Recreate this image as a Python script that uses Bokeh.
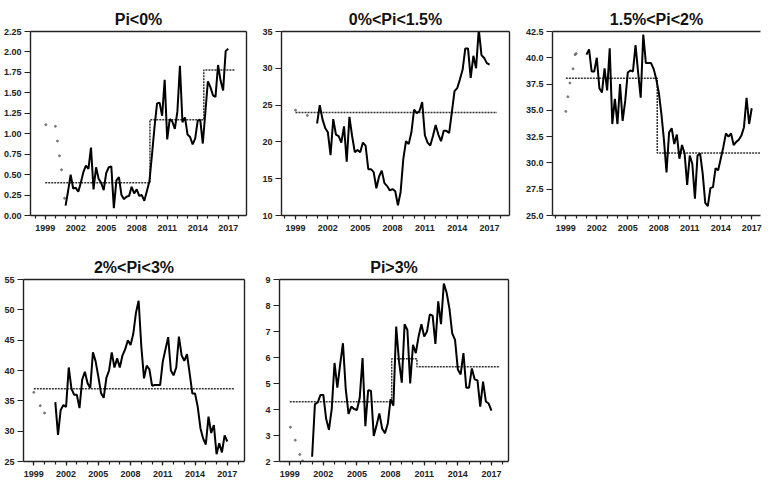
from bokeh.plotting import figure
from bokeh.layouts import column, row
from bokeh.models import FixedTicker, PrintfTickFormatter, Range1d, LinearAxis
from bokeh.embed import file_html
from bokeh.resources import INLINE

# quarterly observations 2001Q1 .. 2017Q1
quarters = [2001 + 0.25 * i for i in range(65)]

titles = ["Pi<0%", "0%<Pi<1.5%", "1.5%<Pi<2%", "2%<Pi<3%", "Pi>3%"]

neg_vals = [0.12, 0.30, 0.50, 0.33, 0.34, 0.29, 0.40, 0.53, 0.61, 0.57,
            0.83, 0.32, 0.59, 0.45, 0.40, 0.31, 0.52, 0.59, 0.60, 0.09,
            0.43, 0.47, 0.25, 0.20, 0.23, 0.24, 0.35, 0.27, 0.32, 0.24,
            0.25, 0.18, 0.30, 0.42, 0.74, 1.08, 1.37, 1.38, 1.22, 1.66,
            0.93, 1.18, 1.15, 1.06, 1.27, 1.83, 1.14, 1.20, 0.99, 0.96,
            0.87, 0.94, 1.16, 1.17, 0.88, 1.26, 1.64, 1.57, 1.47, 1.45,
            1.84, 1.65, 1.53, 2.01, 2.04]
low_vals = [22.5, 25.0, 23.1, 21.9, 21.3, 18.2, 23.1, 21.0, 20.8, 19.9,
            22.1, 17.3, 23.4, 20.8, 18.6, 18.9, 18.6, 19.9, 19.5, 16.3,
            16.3, 15.9, 13.7, 15.3, 16.1, 14.4, 14.0, 13.4, 13.6, 13.3,
            11.4, 13.2, 17.7, 20.1, 19.7, 21.3, 24.4, 23.9, 24.2, 25.4,
            20.9, 19.9, 19.5, 20.8, 22.3, 21.0, 20.1, 21.5, 21.5, 21.2,
            24.0, 26.9, 27.3, 28.5, 29.8, 32.7, 32.7, 28.7, 31.7, 30.0,
            35.3, 31.8, 31.4, 30.7, 30.5]
mid_vals = [40.3, 40.8, 38.7, 38.7, 40.0, 37.1, 36.7, 39.0, 36.9, 40.9,
            33.7, 36.1, 33.7, 37.5, 34.0, 35.9, 38.6, 38.8, 38.7, 41.2,
            38.6, 36.2, 42.2, 39.5, 39.5, 39.5, 38.95, 38.0, 36.7, 34.7,
            32.2, 29.1, 32.9, 33.3, 31.8, 32.7, 30.4, 31.7, 30.9, 27.9,
            30.7, 29.9, 26.6, 30.7, 30.9, 29.0, 26.2, 25.9, 27.6, 27.7,
            29.5, 29.3, 30.4, 31.5, 32.8, 32.5, 32.8, 31.7, 32.0, 32.2,
            32.6, 33.4, 36.2, 33.7, 35.2]
upper_vals = [34.8, 29.4, 33.5, 34.3, 34.0, 40.5, 37.0, 36.0, 36.0, 33.8,
              38.5, 39.8, 37.9, 37.1, 43.0, 41.5, 39.0, 36.3, 35.5, 38.8,
              40.0, 43.0, 40.5, 42.0, 40.5, 42.5, 43.5, 45.0, 44.2, 46.0,
              49.5, 51.5, 44.0, 38.7, 40.8, 40.2, 37.5, 37.6, 37.6, 37.6,
              41.5, 43.5, 45.5, 40.0, 39.2, 40.5, 45.6, 42.5, 41.6, 42.7,
              39.5, 36.2, 36.2, 34.0, 30.5, 28.8, 27.8, 32.4, 29.7, 31.0,
              26.2, 28.0, 26.5, 29.3, 28.3]
high_vals = [2.18, 4.21, 4.27, 4.56, 4.56, 3.64, 3.22, 4.02, 5.79, 4.84,
             5.73, 6.55, 4.78, 3.83, 4.11, 4.02, 3.98, 4.46, 5.98, 3.36,
             4.74, 4.72, 2.98, 3.39, 3.85, 3.26, 3.09, 3.45, 4.40, 4.15,
             7.19, 5.86, 5.03, 7.28, 7.06, 5.00, 6.49, 6.17, 6.81, 7.28,
             6.81, 7.00, 7.66, 7.61, 6.52, 8.16, 7.28, 8.84, 8.49, 7.88,
             6.93, 6.68, 5.54, 5.35, 6.17, 4.84, 4.84, 5.58, 5.16, 5.12,
             4.11, 5.07, 4.31, 4.23, 3.96]

# faint early dots (1999-2000)
neg_dot_x = [1999.06, 2000.0, 2000.2, 2000.4, 2000.6, 2000.9]
neg_dot_y = [1.11, 1.09, 0.91, 0.73, 0.56, 0.21]
low_dot_x = [1999.0, 2000.1]
low_dot_y = [24.3, 23.6]
mid_dot_x = [1999.0, 1999.2, 1999.4, 1999.7, 1999.9, 2000.0]
mid_dot_y = [34.9, 36.3, 37.6, 38.95, 40.3, 40.4]
upper_dot_x = [1999.0, 1999.6, 2000.0]
upper_dot_y = [36.4, 34.2, 33.0]
high_dot_x = [1999.06, 1999.5, 1999.9, 2000.15]
high_dot_y = [3.32, 2.82, 2.27, 2.02]

# regime means (dotted step lines)
neg_breaks = [1999, 2009.3, 2014.6, 2017.7]
neg_levels = [0.40, 1.17, 1.78]
low_breaks = [1999, 2017.7]
low_levels = [24.0]
mid_breaks = [1999, 2007.85, 2017.8]
mid_levels = [38.05, 30.95]
upper_breaks = [1999, 2017.7]
upper_levels = [37.0]
high_breaks = [1999, 2008.1, 2010.35, 2017.75]
high_levels = [4.30, 5.95, 5.64]

x_major = [1999, 2002, 2005, 2008, 2011, 2014, 2017]
x_minor = list(range(1998, 2019))

FONT = "Liberation Sans"
INK = "#222222"


def step_xy(breaks, levels):
    xs, ys = [], []
    for k, lv in enumerate(levels):
        xs += [breaks[k], breaks[k + 1]]
        ys += [lv, lv]
    return xs, ys


def bare_axis():
    ax = LinearAxis(ticker=FixedTicker(ticks=[], minor_ticks=[]))
    ax.axis_line_color = INK
    ax.axis_line_width = 1.4
    ax.major_tick_out = 0
    ax.major_tick_in = 0
    ax.minor_tick_out = 0
    ax.minor_tick_in = 0
    ax.major_label_standoff = 0
    ax.major_label_text_font_size = "0px"
    return ax


def make(title, vals, dx, dy, breaks, levels, xr, yr, yticks, fmt,
         w, h, bl, br, bt, bb, right_edge=True, title_shift=-11):
    p = figure(width=w, height=h, x_range=Range1d(*xr), y_range=Range1d(*yr),
               output_backend="svg", toolbar_location=None,
               min_border_left=bl, min_border_right=br,
               min_border_top=bt, min_border_bottom=bb)
    p.title.text = title
    p.title.align = "center"
    p.title.text_font = FONT
    p.title.text_font_size = "16px"
    p.title.text_font_style = "bold"
    p.title.text_color = "#111111"
    p.title.standoff = 8
    p.title.offset = title_shift
    p.xgrid.visible = False
    p.ygrid.visible = False
    p.outline_line_color = None
    p.background_fill_color = "white"
    p.border_fill_color = "white"

    p.xaxis.ticker = FixedTicker(ticks=x_major, minor_ticks=x_minor)
    p.yaxis.ticker = FixedTicker(ticks=yticks, minor_ticks=[])
    if fmt:
        p.yaxis.formatter = PrintfTickFormatter(format=fmt)
    for ax in (p.xaxis[0], p.yaxis[0]):
        ax.axis_line_color = INK
        ax.axis_line_width = 1.4
        ax.major_tick_line_color = INK
        ax.minor_tick_line_color = INK
        ax.major_tick_line_width = 1.2
        ax.minor_tick_line_width = 1.2
        ax.major_tick_in = 0
        ax.minor_tick_in = 0
        ax.major_label_text_font = FONT
        ax.major_label_text_font_size = "9px"
        ax.major_label_text_font_style = "bold"
        ax.major_label_text_color = INK
    p.xaxis.major_tick_out = 4
    p.xaxis.minor_tick_out = 3
    p.xaxis.major_label_standoff = 5
    p.yaxis.major_tick_out = 6
    p.yaxis.minor_tick_out = 0
    p.yaxis.major_label_standoff = 3

    # top and right frame edges
    p.add_layout(bare_axis(), "above")
    if right_edge:
        p.add_layout(bare_axis(), "right")

    sx, sy = step_xy(breaks, levels)
    p.line(sx, sy, line_color="#333333", line_width=1.5, line_dash="2 1")
    p.scatter(dx, dy, size=2.0, color="#666666", alpha=0.8)
    p.line(quarters, vals, line_color="black", line_width=2)
    return p


p1 = make(titles[0], neg_vals, neg_dot_x, neg_dot_y, neg_breaks, neg_levels,
          (1997.55, 2018.8), (0, 2.25),
          [0, 0.25, 0.5, 0.75, 1.0, 1.25, 1.5, 1.75, 2.0, 2.25], "%.2f",
          256, 248, 26, 10, 31, 33, title_shift=-16)
p2 = make(titles[1], low_vals, low_dot_x, low_dot_y, low_breaks, low_levels,
          (1997.7, 2018.85), (10, 35), [10, 15, 20, 25, 30, 35], None,
          262, 248, 25, 9, 31, 33)
p3 = make(titles[2], mid_vals, mid_dot_x, mid_dot_y, mid_breaks, mid_levels,
          (1997.71, 2017.85), (25, 42.5),
          [25, 27.5, 30, 32.5, 35, 37.5, 40, 42.5], "%.1f",
          244, 248, 34, 2, 31, 33, right_edge=False)
p4 = make(titles[3], upper_vals, upper_dot_x, upper_dot_y, upper_breaks, upper_levels,
          (1998.04, 2018.6), (25, 55), [25, 30, 35, 40, 45, 50, 55], None,
          254, 231, 23, 10, 31, 17, title_shift=-16)
p5 = make(titles[4], high_vals, high_dot_x, high_dot_y, high_breaks, high_levels,
          (1998.09, 2018.52), (2, 9), [2, 3, 4, 5, 6, 7, 8, 9], None,
          260, 231, 25, 6, 31, 17, title_shift=-13)

layout = column(row(p1, p2, p3, spacing=0), row(p4, p5, spacing=0), spacing=0)

open("out.html", "w").write(file_html(layout, INLINE))
